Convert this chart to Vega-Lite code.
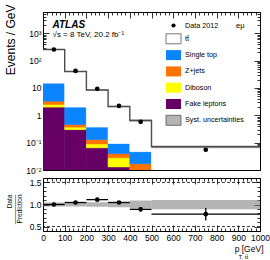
{
  "$schema": "https://vega.github.io/schema/vega-lite/v6.json",
  "padding": {"left": 3, "top": 3, "right": 0, "bottom": 0},
  "spacing": 2,
  "config": {
    "font": "Liberation Sans",
    "view": {"stroke": "black", "strokeWidth": 1},
    "axis": {"grid": false, "domain": false, "tickColor": "black", "tickWidth": 0.8, "labelColor": "black", "titleColor": "black", "labelFont": "Liberation Sans", "titleFont": "Liberation Sans", "labelFontSize": 8.5, "titleFontWeight": "normal", "labelOverlap": false, "labelFlush": false}
  },
  "datasets": {
    "stack": [
      {"process": "Fake leptons", "lo": 0, "hi": 100, "bottom": 0.001, "top": 2.0},
      {"process": "Diboson", "lo": 0, "hi": 100, "bottom": 2.0, "top": 2.5},
      {"process": "Z+jets", "lo": 0, "hi": 100, "bottom": 2.5, "top": 3.3},
      {"process": "Single top", "lo": 0, "hi": 100, "bottom": 3.3, "top": 15},
      {"process": "tt̄", "lo": 0, "hi": 100, "bottom": 15, "top": 255},
      {"process": "Fake leptons", "lo": 100, "hi": 200, "bottom": 0.001, "top": 0.30},
      {"process": "Diboson", "lo": 100, "hi": 200, "bottom": 0.30, "top": 0.37},
      {"process": "Z+jets", "lo": 100, "hi": 200, "bottom": 0.37, "top": 0.46},
      {"process": "Single top", "lo": 100, "hi": 200, "bottom": 0.46, "top": 2.0},
      {"process": "tt̄", "lo": 100, "hi": 200, "bottom": 2.0, "top": 40},
      {"process": "Fake leptons", "lo": 200, "hi": 300, "bottom": 0.001, "top": 0.065},
      {"process": "Diboson", "lo": 200, "hi": 300, "bottom": 0.065, "top": 0.09},
      {"process": "Z+jets", "lo": 200, "hi": 300, "bottom": 0.09, "top": 0.13},
      {"process": "Single top", "lo": 200, "hi": 300, "bottom": 0.13, "top": 0.37},
      {"process": "tt̄", "lo": 200, "hi": 300, "bottom": 0.37, "top": 8.4},
      {"process": "Fake leptons", "lo": 300, "hi": 400, "bottom": 0.001, "top": 0.013},
      {"process": "Diboson", "lo": 300, "hi": 400, "bottom": 0.013, "top": 0.028},
      {"process": "Z+jets", "lo": 300, "hi": 400, "bottom": 0.028, "top": 0.04},
      {"process": "Single top", "lo": 300, "hi": 400, "bottom": 0.04, "top": 0.093},
      {"process": "tt̄", "lo": 300, "hi": 400, "bottom": 0.093, "top": 2.1},
      {"process": "Fake leptons", "lo": 400, "hi": 500, "bottom": 0.001, "top": 0.003},
      {"process": "Diboson", "lo": 400, "hi": 500, "bottom": 0.003, "top": 0.006},
      {"process": "Z+jets", "lo": 400, "hi": 500, "bottom": 0.006, "top": 0.017},
      {"process": "Single top", "lo": 400, "hi": 500, "bottom": 0.017, "top": 0.047},
      {"process": "tt̄", "lo": 400, "hi": 500, "bottom": 0.047, "top": 0.65},
      {"process": "Fake leptons", "lo": 500, "hi": 1000, "bottom": 0.0005, "top": 0.001},
      {"process": "Diboson", "lo": 500, "hi": 1000, "bottom": 0.001, "top": 0.002},
      {"process": "Z+jets", "lo": 500, "hi": 1000, "bottom": 0.002, "top": 0.004},
      {"process": "Single top", "lo": 500, "hi": 1000, "bottom": 0.004, "top": 0.008},
      {"process": "tt̄", "lo": 500, "hi": 1000, "bottom": 0.008, "top": 0.071}
    ],
    "band": [
      {"lo": 0, "hi": 100, "blo": 244, "bhi": 266},
      {"lo": 100, "hi": 200, "blo": 38.2, "bhi": 41.8},
      {"lo": 200, "hi": 300, "blo": 7.98, "bhi": 8.82},
      {"lo": 300, "hi": 400, "blo": 1.96, "bhi": 2.24},
      {"lo": 400, "hi": 500, "blo": 0.59, "bhi": 0.71},
      {"lo": 500, "hi": 1000, "blo": 0.063, "bhi": 0.078}
    ],
    "step": [
      {"edge": 0, "total": 255},
      {"edge": 100, "total": 40},
      {"edge": 200, "total": 8.4},
      {"edge": 300, "total": 2.1},
      {"edge": 400, "total": 0.65},
      {"edge": 500, "total": 0.071},
      {"edge": 1000, "total": 0.071}
    ],
    "points": [
      {"c": 50, "val": 255},
      {"c": 150, "val": 42},
      {"c": 250, "val": 9.3},
      {"c": 350, "val": 2.2},
      {"c": 450, "val": 0.58},
      {"c": 750, "val": 0.055}
    ],
    "ratio": [
      {"lo": 0, "hi": 100, "c": 50, "r": 1.0, "rlo": 0.99, "rhi": 1.01, "blo": 0.955, "bhi": 1.045},
      {"lo": 100, "hi": 200, "c": 150, "r": 1.045, "rlo": 1.03, "rhi": 1.06, "blo": 0.955, "bhi": 1.045},
      {"lo": 200, "hi": 300, "c": 250, "r": 1.11, "rlo": 1.09, "rhi": 1.13, "blo": 0.95, "bhi": 1.05},
      {"lo": 300, "hi": 400, "c": 350, "r": 1.045, "rlo": 1.015, "rhi": 1.075, "blo": 0.935, "bhi": 1.065},
      {"lo": 400, "hi": 500, "c": 450, "r": 0.89, "rlo": 0.835, "rhi": 0.945, "blo": 0.91, "bhi": 1.09},
      {"lo": 500, "hi": 1000, "c": 750, "r": 0.78, "rlo": 0.64, "rhi": 0.92, "blo": 0.89, "bhi": 1.1}
    ],
    "refs": [{"ref": 0.5}, {"ref": 1.5}]
  },
  "vconcat": [
    {
      "width": 217,
      "height": 158,
      "resolve": {"axis": {"x": "independent", "y": "independent"}},
      "layer": [
        {
          "data": {"name": "stack"},
          "mark": {"type": "rect", "clip": true, "strokeWidth": 0.6},
          "encoding": {
            "x": {"field": "lo", "type": "quantitative", "scale": {"domain": [0, 1000], "nice": false},
              "axis": {"orient": "bottom", "values": [0,20,40,60,80,100,120,140,160,180,200,220,240,260,280,300,320,340,360,380,400,420,440,460,480,500,520,540,560,580,600,620,640,660,680,700,720,740,760,780,800,820,840,860,880,900,920,940,960,980,1000],
                "labels": false, "tickSize": {"condition": {"test": "datum.value % 100 === 0", "value": -6}, "value": -3},
                "title": "ATLAS", "titleFontSize": 10, "titleFontWeight": "bold", "titleFontStyle": "italic", "titleAlign": "left", "titleBaseline": "middle", "titleAngle": 0, "titleX": 9, "titleY": -146}},
            "x2": {"field": "hi"},
            "y": {"field": "top", "type": "quantitative", "scale": {"type": "log", "domain": [0.01, 6000], "nice": false},
              "axis": {"orient": "left", "values": [0.01,0.02,0.03,0.04,0.05,0.06,0.07,0.08,0.09,0.1,0.2,0.3,0.4,0.5,0.6,0.7,0.8,0.9,1,2,3,4,5,6,7,8,9,10,20,30,40,50,60,70,80,90,100,200,300,400,500,600,700,800,900,1000,2000,3000,4000,5000],
                "tickSize": {"condition": {"test": "indexof([0.01,0.1,1,10,100,1000], datum.value) >= 0", "value": -6}, "value": -3},
                "labelPadding": 8,
                "labelExpr": "datum.value === 0.01 ? '10⁻²' : datum.value === 0.1 ? '10⁻¹' : datum.value === 1 ? '1' : datum.value === 10 ? '10' : datum.value === 100 ? '10²' : datum.value === 1000 ? '10³' : ''",
                "title": "Events / GeV", "titleFontSize": 12, "titleAngle": -90, "titleAlign": "right", "titleBaseline": "top", "titleX": -38, "titleY": -8}},
            "y2": {"field": "bottom"},
            "stroke": {"condition": [
                {"test": "datum.process === 'Fake leptons'", "value": "#660066"},
                {"test": "datum.process === 'Diboson'", "value": "#ffff00"},
                {"test": "datum.process === 'Z+jets'", "value": "#ff7300"},
                {"test": "datum.process === 'Single top'", "value": "#0a84ff"}],
              "value": "#ffffff"},
            "fill": {"field": "process", "type": "nominal",
              "scale": {"domain": ["Data 2012", "tt̄", "Single top", "Z+jets", "Diboson", "Fake leptons", "Syst. uncertainties"],
                        "range": ["#000000", "#ffffff", "#0a84ff", "#ff7300", "#ffff00", "#660066", "#b4b4b4"]},
              "legend": {"orient": "none", "legendX": 125, "legendY": 8, "title": null, "padding": 0,
                "labelFont": "Liberation Sans", "labelFontSize": 7.2, "labelColor": "black", "labelOffset": 6,
                "symbolSize": 100, "rowPadding": 1.3, "symbolType": "square",
                "symbolStrokeColor": "#555555", "symbolStrokeWidth": 0.8,
                "encode": {"symbols": {"update": {
                  "shape": {"signal": "datum.value === 'Data 2012' ? 'circle' : 'M-1.5,-1H1.5V1H-1.5Z'"},
                  "size": {"signal": "datum.value === 'Data 2012' ? 18 : 100"},
                  "stroke": {"signal": "datum.index === 1 || datum.index === 6 ? '#555555' : 'transparent'"},
                  "strokeWidth": {"value": 0.8},
                  "opacity": {"value": 1},
                  "fillOpacity": {"value": 1}}}}}}
          }
        },
        {
          "data": {"name": "band"},
          "mark": {"type": "rect", "fill": "#777777", "fillOpacity": 0.55, "clip": true},
          "encoding": {
            "x": {"field": "lo", "type": "quantitative", "axis": null},
            "x2": {"field": "hi"},
            "y": {"field": "blo", "type": "quantitative", "axis": null},
            "y2": {"field": "bhi"}
          }
        },
        {
          "data": {"name": "step"},
          "mark": {"type": "line", "interpolate": "step-after", "stroke": "#4d4d4d", "strokeWidth": 1.4},
          "encoding": {
            "x": {"field": "edge", "type": "quantitative",
              "axis": {"orient": "top", "values": [0,20,40,60,80,100,120,140,160,180,200,220,240,260,280,300,320,340,360,380,400,420,440,460,480,500,520,540,560,580,600,620,640,660,680,700,720,740,760,780,800,820,840,860,880,900,920,940,960,980,1000],
                "labels": false, "tickSize": {"condition": {"test": "datum.value % 100 === 0", "value": -6}, "value": -3},
                "title": "√s = 8 TeV, 20.2 fb⁻¹", "titleFontSize": 8, "titleAlign": "left", "titleBaseline": "middle", "titleAngle": 0, "titleX": 9, "titleY": 22}},
            "y": {"field": "total", "type": "quantitative",
              "axis": {"orient": "right", "values": [0.01,0.02,0.03,0.04,0.05,0.06,0.07,0.08,0.09,0.1,0.2,0.3,0.4,0.5,0.6,0.7,0.8,0.9,1,2,3,4,5,6,7,8,9,10,20,30,40,50,60,70,80,90,100,200,300,400,500,600,700,800,900,1000,2000,3000,4000,5000],
                "labels": false, "tickSize": {"condition": {"test": "indexof([0.01,0.1,1,10,100,1000], datum.value) >= 0", "value": -6}, "value": -3},
                "title": "eμ", "titleFontSize": 7.5, "titleAngle": 0, "titleAlign": "right", "titleBaseline": "middle", "titleX": -16, "titleY": 13}}
          }
        },
        {
          "data": {"name": "points"},
          "mark": {"type": "point", "filled": true, "color": "black", "size": 22, "opacity": 1},
          "encoding": {
            "x": {"field": "c", "type": "quantitative", "axis": null},
            "y": {"field": "val", "type": "quantitative", "axis": null}
          }
        }
      ]
    },
    {
      "width": 217,
      "height": 53,
      "resolve": {"axis": {"x": "independent", "y": "independent"}},
      "layer": [
        {
          "data": {"name": "ratio"},
          "mark": {"type": "rect", "fill": "#777777", "fillOpacity": 0.55},
          "encoding": {
            "x": {"field": "lo", "type": "quantitative", "scale": {"domain": [0, 1000], "nice": false},
              "axis": {"orient": "bottom", "values": [0,20,40,60,80,100,120,140,160,180,200,220,240,260,280,300,320,340,360,380,400,420,440,460,480,500,520,540,560,580,600,620,640,660,680,700,720,740,760,780,800,820,840,860,880,900,920,940,960,980,1000],
                "format": "d", "labelExpr": "datum.value % 100 === 0 ? datum.label : ''", "labelPadding": 8,
                "tickSize": {"condition": {"test": "datum.value % 100 === 0", "value": -6}, "value": -3},
                "title": "p    [GeV]", "titleFontSize": 8.5, "titleAlign": "right", "titleBaseline": "alphabetic", "titleAngle": 0, "titleX": 220, "titleY": 20}},
            "x2": {"field": "hi"},
            "y": {"field": "blo", "type": "quantitative", "scale": {"domain": [0.4, 1.6], "nice": false, "zero": false},
              "axis": {"orient": "left", "values": [0.5,0.6,0.7,0.8,0.9,1,1.1,1.2,1.3,1.4,1.5],
                "labelExpr": "(datum.value === 0.5 || datum.value === 1 || datum.value === 1.5) ? datum.label : ''", "labelPadding": 8,
                "tickSize": {"condition": {"test": "datum.value === 0.5 || datum.value === 1 || datum.value === 1.5", "value": -6}, "value": -3},
                "title": ["Data", "————–", "Prediction"], "titleFontSize": 6.5, "titleLineHeight": 5, "titleAngle": -90, "titleAlign": "right", "titleBaseline": "top", "titleX": -37, "titleY": 16}},
            "y2": {"field": "bhi"}
          }
        },
        {
          "data": {"name": "refs"},
          "mark": {"type": "rule", "color": "black", "strokeWidth": 0.8, "strokeDash": [3, 2]},
          "encoding": {
            "y": {"field": "ref", "type": "quantitative", "axis": null}
          }
        },
        {
          "data": {"name": "ratio"},
          "mark": {"type": "rule", "color": "black", "strokeWidth": 1.3},
          "encoding": {
            "x": {"field": "lo", "type": "quantitative", "axis": null},
            "x2": {"field": "hi"},
            "y": {"field": "r", "type": "quantitative", "axis": null}
          }
        },
        {
          "data": {"name": "ratio"},
          "mark": {"type": "rule", "color": "black", "strokeWidth": 1.3},
          "encoding": {
            "x": {"field": "c", "type": "quantitative", "axis": null},
            "y": {"field": "rlo", "type": "quantitative", "axis": null},
            "y2": {"field": "rhi"}
          }
        },
        {
          "data": {"name": "ratio"},
          "mark": {"type": "point", "filled": true, "color": "black", "size": 22, "opacity": 1},
          "encoding": {
            "x": {"field": "c", "type": "quantitative",
              "axis": {"orient": "top", "values": [0,20,40,60,80,100,120,140,160,180,200,220,240,260,280,300,320,340,360,380,400,420,440,460,480,500,520,540,560,580,600,620,640,660,680,700,720,740,760,780,800,820,840,860,880,900,920,940,960,980,1000],
                "labels": false, "tickSize": {"condition": {"test": "datum.value % 100 === 0", "value": -6}, "value": -3},
                "title": "T, tt̄", "titleFontSize": 6, "titleAlign": "left", "titleBaseline": "alphabetic", "titleAngle": 0, "titleX": 195, "titleY": 80}},
            "y": {"field": "r", "type": "quantitative",
              "axis": {"orient": "right", "values": [0.4,0.5,0.6,0.7,0.8,0.9,1,1.1,1.2,1.3,1.4,1.5,1.6],
                "labels": false, "tickSize": {"condition": {"test": "datum.value === 0.5 || datum.value === 1 || datum.value === 1.5", "value": -6}, "value": -3},
                "title": null}}
          }
        }
      ]
    }
  ]
}
